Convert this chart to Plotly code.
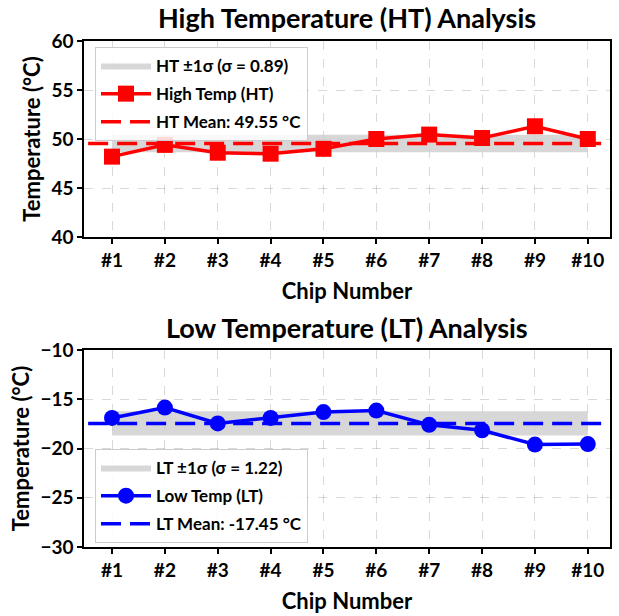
import plotly.graph_objects as go

chips = ["#1", "#2", "#3", "#4", "#5", "#6", "#7", "#8", "#9", "#10"]
ht_values = [48.2, 49.4, 48.6, 48.5, 49.0, 50.0, 50.45, 50.1, 51.3, 50.0]
lt_values = [-16.9, -15.85, -17.45, -16.9, -16.3, -16.15, -17.6, -18.15, -19.6, -19.55]
ht_mean, ht_sigma = 49.55, 0.89
lt_mean, lt_sigma = -17.45, 1.22

FONT = "Lato"
idx = list(range(len(chips)))

fig = go.Figure()

def band(mean, sigma):
    xs = idx + idx[::-1]
    ys = [mean + sigma] * len(idx) + [mean - sigma] * len(idx)
    return xs, ys

# HT
bx, by = band(ht_mean, ht_sigma)
fig.add_trace(go.Scatter(x=bx, y=by, fill="toself", fillcolor="rgba(205,205,205,0.8)",
                         line=dict(width=0), mode="lines", hoverinfo="skip", legendgroup="a",
                         name=f"HT ±1σ (σ = {ht_sigma:.2f})", xaxis="x", yaxis="y", legend="legend"))
fig.add_trace(go.Scatter(x=idx, y=ht_values, mode="lines+markers", legendgroup="b",
                         line=dict(color="#ff0000", width=3.5),
                         marker=dict(symbol="square", size=16, color="#ff0000"),
                         name="High Temp (HT)", xaxis="x", yaxis="y", legend="legend"))
fig.add_trace(go.Scatter(x=[-1, len(chips)], y=[ht_mean, ht_mean], mode="lines", legendgroup="c",
                         line=dict(color="#ff0000", width=3.5, dash="20px,9px"),
                         name=f"HT Mean: {ht_mean:.2f} °C", xaxis="x", yaxis="y", legend="legend"))

# LT
bx, by = band(lt_mean, lt_sigma)
fig.add_trace(go.Scatter(x=bx, y=by, fill="toself", fillcolor="rgba(205,205,205,0.8)",
                         line=dict(width=0), mode="lines", hoverinfo="skip", legendgroup="d",
                         name=f"LT ±1σ (σ = {lt_sigma:.2f})", xaxis="x2", yaxis="y2", legend="legend2"))
fig.add_trace(go.Scatter(x=idx, y=lt_values, mode="lines+markers", legendgroup="e",
                         line=dict(color="#0000ff", width=3.5),
                         marker=dict(symbol="circle", size=16, color="#0000ff"),
                         name="Low Temp (LT)", xaxis="x2", yaxis="y2", legend="legend2"))
fig.add_trace(go.Scatter(x=[-1, len(chips)], y=[lt_mean, lt_mean], mode="lines", legendgroup="f",
                         line=dict(color="#0000ff", width=3.5, dash="20px,9px"),
                         name=f"LT Mean: {lt_mean:.2f} °C", xaxis="x2", yaxis="y2", legend="legend2"))

xdom = [84 / 619, 610 / 619]
ydom1 = [1 - 237 / 616, 1 - 41 / 616]
ydom2 = [1 - 547 / 616, 1 - 350 / 616]

axis_common = dict(showline=True, linecolor="black", linewidth=1.5, mirror=True, automargin=False,
                   ticks="outside", ticklen=5, tickwidth=1.5, tickcolor="black",
                   showgrid=True, gridcolor="rgba(0,0,0,0.15)", griddash="dash", gridwidth=1,
                   zeroline=False, tickfont=dict(family=FONT, size=19, color="black", weight="bold"))

xaxis_common = dict(axis_common, range=[-0.53, 9.42], tickmode="array", tickvals=idx, ticktext=chips,
                    title=dict(text="<b>Chip Number</b>", font=dict(family=FONT, size=22, color="black"), standoff=14))
yaxis_title = dict(text="<b>Temperature (°C)</b>", font=dict(family=FONT, size=22, color="black"), standoff=5)

legend_common = dict(bgcolor="rgba(255,255,255,0.85)", bordercolor="#cccccc", borderwidth=1,
                     font=dict(family=FONT, size=17, color="black", weight="bold"),
                     xanchor="left", yanchor="top", tracegroupgap=3, itemwidth=50)

fig.update_layout(
    width=619, height=616, margin=dict(l=0, r=0, t=0, b=0, autoexpand=False),
    paper_bgcolor="white", plot_bgcolor="white",
    showlegend=True,
    xaxis=dict(xaxis_common, domain=xdom, anchor="y"),
    yaxis=dict(axis_common, domain=ydom1, anchor="x", range=[40, 60], tickvals=[40, 45, 50, 55, 60],
               title=yaxis_title),
    xaxis2=dict(xaxis_common, domain=xdom, anchor="y2"),
    yaxis2=dict(axis_common, domain=ydom2, anchor="x2", range=[-30, -10], tickvals=[-30, -25, -20, -15, -10],
                tickformat="d", title=yaxis_title),
    legend=dict(legend_common, x=95 / 619, y=1 - 47 / 616),
    legend2=dict(legend_common, x=95 / 619, y=1 - 449 / 616),
    annotations=[
        dict(text="<b>High Temperature (HT) Analysis</b>", x=(xdom[0] + xdom[1]) / 2, y=1 - 17 / 616,
             xref="paper", yref="paper", showarrow=False, xanchor="center", yanchor="middle",
             font=dict(family=FONT, size=27, color="black")),
        dict(text="<b>Low Temperature (LT) Analysis</b>", x=(xdom[0] + xdom[1]) / 2, y=1 - 327 / 616,
             xref="paper", yref="paper", showarrow=False, xanchor="center", yanchor="middle",
             font=dict(family=FONT, size=27, color="black")),
    ],
)

fig.write_html("out.html")
